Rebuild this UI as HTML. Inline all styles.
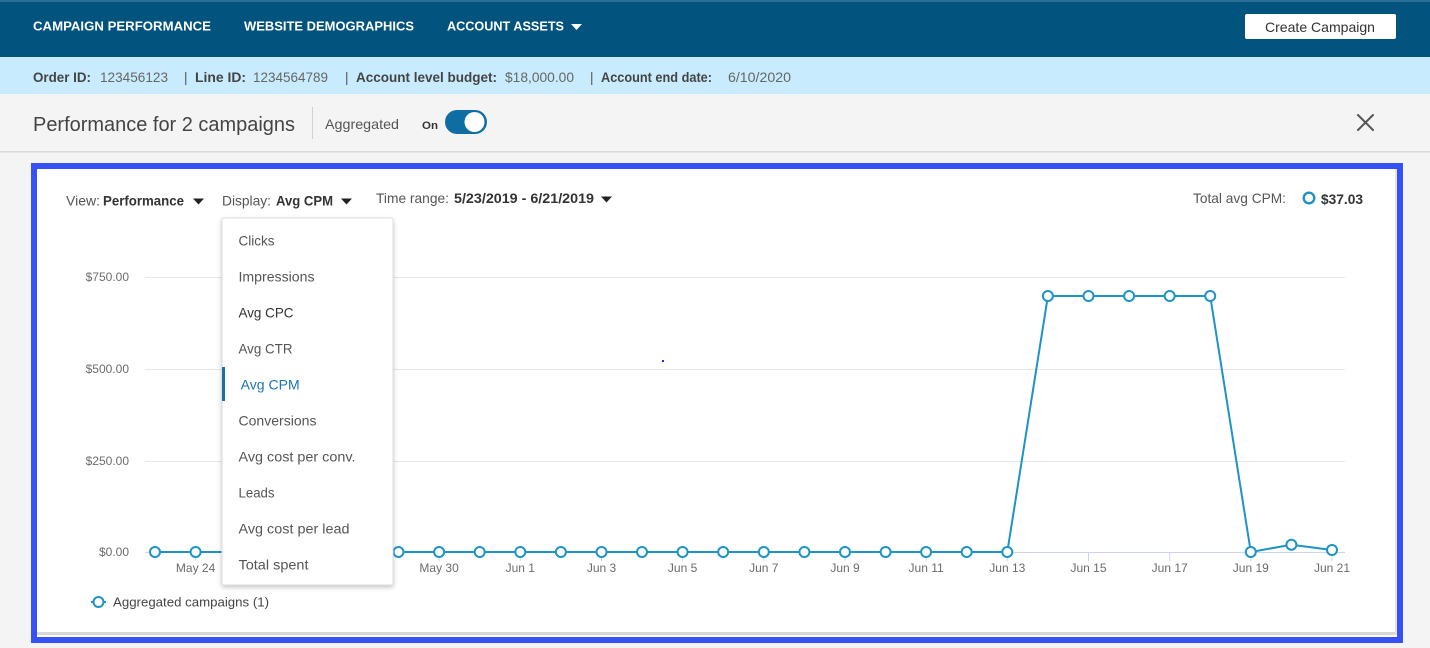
<!DOCTYPE html>
<html><head><meta charset="utf-8"><style>
html,body{margin:0;padding:0;background:#f4f4f4;}
svg{display:block;font-family:"Liberation Sans",Arial,sans-serif;}
</style></head><body>
<svg width="1430" height="648" viewBox="0 0 1430 648" xmlns="http://www.w3.org/2000/svg">
<defs>
<filter id="sh" x="-10%" y="-10%" width="120%" height="120%"><feDropShadow dx="0" dy="2" stdDeviation="2.5" flood-color="#000" flood-opacity="0.22"/></filter>
</defs>
<rect x="0" y="0" width="1430" height="648" fill="#f4f4f4"/>
<!-- header -->
<rect x="0" y="0" width="1430" height="57" fill="#03537f"/>
<rect x="0" y="0" width="1430" height="2" fill="#2b6f98"/>
<g fill="#ffffff" font-weight="bold" font-size="13">
<text x="33" y="30.5" textLength="178" lengthAdjust="spacingAndGlyphs">CAMPAIGN PERFORMANCE</text>
<text x="244" y="30.5" textLength="170" lengthAdjust="spacingAndGlyphs">WEBSITE DEMOGRAPHICS</text>
<text x="447" y="30.5" textLength="117" lengthAdjust="spacingAndGlyphs">ACCOUNT ASSETS</text>
</g>
<polygon points="571,24 582,24 576.5,30" fill="#ffffff"/>
<rect x="1245" y="14" width="151" height="25" rx="2" fill="#ffffff"/>
<text x="1265" y="32" font-size="14" fill="#333" textLength="110" lengthAdjust="spacingAndGlyphs">Create Campaign</text>
<!-- info bar -->
<rect x="0" y="57" width="1430" height="37" fill="#c8ecfd"/>
<g font-size="13.5" fill="#666">
<text x="33" y="82" font-weight="bold" fill="#444" textLength="58" lengthAdjust="spacingAndGlyphs">Order ID:</text>
<text x="100" y="82" textLength="68" lengthAdjust="spacingAndGlyphs">123456123</text>
<text x="184" y="82" fill="#555">|</text>
<text x="195" y="82" font-weight="bold" fill="#444" textLength="51" lengthAdjust="spacingAndGlyphs">Line ID:</text>
<text x="253" y="82" textLength="75" lengthAdjust="spacingAndGlyphs">1234564789</text>
<text x="345" y="82" fill="#555">|</text>
<text x="356" y="82" font-weight="bold" fill="#444" textLength="141" lengthAdjust="spacingAndGlyphs">Account level budget:</text>
<text x="505" y="82" textLength="69" lengthAdjust="spacingAndGlyphs">$18,000.00</text>
<text x="590" y="82" fill="#555">|</text>
<text x="601" y="82" font-weight="bold" fill="#444" textLength="111" lengthAdjust="spacingAndGlyphs">Account end date:</text>
<text x="728" y="82" textLength="63" lengthAdjust="spacingAndGlyphs">6/10/2020</text>
</g>
<!-- title band -->
<rect x="0" y="94" width="1430" height="57" fill="#f4f4f4"/>
<rect x="0" y="151" width="1430" height="1.5" fill="#d9d9d9"/>
<text x="33" y="131" font-size="20" fill="#444" textLength="262" lengthAdjust="spacingAndGlyphs">Performance for 2 campaigns</text>
<rect x="312" y="107" width="1" height="32" fill="#d0d0d0"/>
<text x="325" y="129" font-size="14" fill="#555" textLength="74" lengthAdjust="spacingAndGlyphs">Aggregated</text>
<text x="422" y="129" font-size="11" font-weight="bold" fill="#333" textLength="16" lengthAdjust="spacingAndGlyphs">On</text>
<rect x="445" y="110" width="42" height="24" rx="12" fill="#0e6ea3"/>
<circle cx="474.5" cy="122" r="10" fill="#ffffff"/>
<g stroke="#555" stroke-width="2" stroke-linecap="round">
<line x1="1358" y1="115" x2="1373" y2="130"/><line x1="1373" y1="115" x2="1358" y2="130"/>
</g>
<!-- card with blue highlight -->
<rect x="34" y="166" width="1366" height="474" fill="#ffffff" stroke="#3652f7" stroke-width="6"/>
<rect x="37" y="632" width="1360" height="3" fill="#d6d6d6"/>
<rect x="1395" y="169" width="2" height="466" fill="#e4e4e4"/>
<!-- controls -->
<g font-size="14">
<text x="66" y="205.5" fill="#555" textLength="34" lengthAdjust="spacingAndGlyphs">View:</text>
<text x="103" y="205.5" fill="#333" font-weight="bold" textLength="81" lengthAdjust="spacingAndGlyphs">Performance</text>
<text x="222" y="205.5" fill="#555" textLength="49" lengthAdjust="spacingAndGlyphs">Display:</text>
<text x="276" y="205.5" fill="#333" font-weight="bold" textLength="57" lengthAdjust="spacingAndGlyphs">Avg CPM</text>
<text x="376" y="203" fill="#555" textLength="73" lengthAdjust="spacingAndGlyphs">Time range:</text>
<text x="454" y="203" fill="#333" font-weight="bold" textLength="140" lengthAdjust="spacingAndGlyphs">5/23/2019 - 6/21/2019</text>
<text x="1193" y="203" fill="#555" textLength="93" lengthAdjust="spacingAndGlyphs">Total avg CPM:</text>
<text x="1321" y="204" fill="#333" font-weight="bold" textLength="42" lengthAdjust="spacingAndGlyphs">$37.03</text>
</g>
<g fill="#222">
<polygon points="193,198.5 204,198.5 198.5,204.5"/>
<polygon points="341,198.5 352,198.5 346.5,204.5"/>
<polygon points="601,196.5 612,196.5 606.5,202.5"/>
</g>
<circle cx="1309" cy="198" r="5.3" fill="#fff" stroke="#1e93c6" stroke-width="2.4"/>
<!-- y axis labels & grid -->
<g font-size="12" fill="#6b6b6b" text-anchor="end">
<text x="129" y="281">$750.00</text>
<text x="129" y="373">$500.00</text>
<text x="129" y="465">$250.00</text>
<text x="129" y="556">$0.00</text>
</g>
<g stroke="#e6e6e6" stroke-width="1">
<line x1="145" y1="277.5" x2="1345" y2="277.5"/>
<line x1="145" y1="369.5" x2="1345" y2="369.5"/>
<line x1="145" y1="461.5" x2="1345" y2="461.5"/>
</g>
<line x1="145" y1="552.5" x2="1345" y2="552.5" stroke="#ccd6eb" stroke-width="1"/>
<g stroke="#ccd6eb" stroke-width="1">
<line x1="195.6" y1="553" x2="195.6" y2="561"/>
<line x1="439.1" y1="553" x2="439.1" y2="561"/>
<line x1="520.3" y1="553" x2="520.3" y2="561"/>
<line x1="601.5" y1="553" x2="601.5" y2="561"/>
<line x1="682.6" y1="553" x2="682.6" y2="561"/>
<line x1="763.8" y1="553" x2="763.8" y2="561"/>
<line x1="845" y1="553" x2="845" y2="561"/>
<line x1="926.1" y1="553" x2="926.1" y2="561"/>
<line x1="1007.3" y1="553" x2="1007.3" y2="561"/>
<line x1="1088.5" y1="553" x2="1088.5" y2="561"/>
<line x1="1169.7" y1="553" x2="1169.7" y2="561"/>
<line x1="1250.8" y1="553" x2="1250.8" y2="561"/>
<line x1="1332" y1="553" x2="1332" y2="561"/>
</g>
<g font-size="12" fill="#6b6b6b" text-anchor="middle">
<text x="195.6" y="572">May 24</text>
<text x="439.1" y="572">May 30</text>
<text x="520.3" y="572">Jun 1</text>
<text x="601.5" y="572">Jun 3</text>
<text x="682.6" y="572">Jun 5</text>
<text x="763.8" y="572">Jun 7</text>
<text x="845" y="572">Jun 9</text>
<text x="926.1" y="572">Jun 11</text>
<text x="1007.3" y="572">Jun 13</text>
<text x="1088.5" y="572">Jun 15</text>
<text x="1169.7" y="572">Jun 17</text>
<text x="1250.8" y="572">Jun 19</text>
<text x="1332" y="572">Jun 21</text>
</g>
<!-- series -->
<polyline fill="none" stroke="#1e93c6" stroke-width="2" stroke-linejoin="round"
points="155,552 195.6,552 236.2,552 276.8,552 317.3,552 357.9,552 398.5,552 439.1,552 479.7,552 520.3,552 560.9,552 601.5,552 642,552 682.6,552 723.2,552 763.8,552 804.4,552 845,552 885.6,552 926.1,552 966.7,552 1007.3,552 1047.9,296 1088.5,296 1129.1,296 1169.7,296 1210.2,296 1250.8,552 1291.4,544.7 1332,550"/>
<g fill="#ffffff" stroke="#1e93c6" stroke-width="2">
<circle cx="155" cy="552" r="5"/><circle cx="195.6" cy="552" r="5"/><circle cx="236.2" cy="552" r="5"/><circle cx="276.8" cy="552" r="5"/><circle cx="317.3" cy="552" r="5"/><circle cx="357.9" cy="552" r="5"/><circle cx="398.5" cy="552" r="5"/><circle cx="439.1" cy="552" r="5"/><circle cx="479.7" cy="552" r="5"/><circle cx="520.3" cy="552" r="5"/><circle cx="560.9" cy="552" r="5"/><circle cx="601.5" cy="552" r="5"/><circle cx="642" cy="552" r="5"/><circle cx="682.6" cy="552" r="5"/><circle cx="723.2" cy="552" r="5"/><circle cx="763.8" cy="552" r="5"/><circle cx="804.4" cy="552" r="5"/><circle cx="845" cy="552" r="5"/><circle cx="885.6" cy="552" r="5"/><circle cx="926.1" cy="552" r="5"/><circle cx="966.7" cy="552" r="5"/><circle cx="1007.3" cy="552" r="5"/><circle cx="1047.9" cy="296" r="5"/><circle cx="1088.5" cy="296" r="5"/><circle cx="1129.1" cy="296" r="5"/><circle cx="1169.7" cy="296" r="5"/><circle cx="1210.2" cy="296" r="5"/><circle cx="1250.8" cy="552" r="5"/><circle cx="1291.4" cy="544.7" r="5"/><circle cx="1332" cy="550" r="5"/>
</g>
<rect x="662" y="360" width="2" height="2" fill="#2233cc"/>
<!-- legend -->
<line x1="91" y1="602" x2="106" y2="602" stroke="#1e93c6" stroke-width="2"/>
<circle cx="98.5" cy="602" r="5" fill="#fff" stroke="#1e93c6" stroke-width="2"/>
<text x="113" y="606.5" font-size="13" fill="#444" textLength="156" lengthAdjust="spacingAndGlyphs">Aggregated campaigns (1)</text>
<!-- dropdown -->
<rect x="222" y="218" width="171" height="367" rx="2" fill="#ffffff" stroke="#dddddd" stroke-width="1" filter="url(#sh)"/>
<rect x="222" y="367" width="3" height="34" fill="#1b6fa5"/>
<g font-size="14" fill="#555">
<text x="238.5" y="245.5" textLength="36" lengthAdjust="spacingAndGlyphs">Clicks</text>
<text x="238.5" y="281.5" textLength="76" lengthAdjust="spacingAndGlyphs">Impressions</text>
<text x="238.5" y="317.5" fill="#333" textLength="55" lengthAdjust="spacingAndGlyphs">Avg CPC</text>
<text x="238.5" y="353.5" textLength="54" lengthAdjust="spacingAndGlyphs">Avg CTR</text>
<text x="240.7" y="389.5" fill="#1b75ad" textLength="59" lengthAdjust="spacingAndGlyphs">Avg CPM</text>
<text x="238.5" y="425.5" textLength="78" lengthAdjust="spacingAndGlyphs">Conversions</text>
<text x="238.5" y="461.5" textLength="117" lengthAdjust="spacingAndGlyphs">Avg cost per conv.</text>
<text x="238.5" y="497.5" textLength="36" lengthAdjust="spacingAndGlyphs">Leads</text>
<text x="238.5" y="533.5" textLength="111" lengthAdjust="spacingAndGlyphs">Avg cost per lead</text>
<text x="238.5" y="569.5" textLength="70" lengthAdjust="spacingAndGlyphs">Total spent</text>
</g>
</svg>
</body></html>
